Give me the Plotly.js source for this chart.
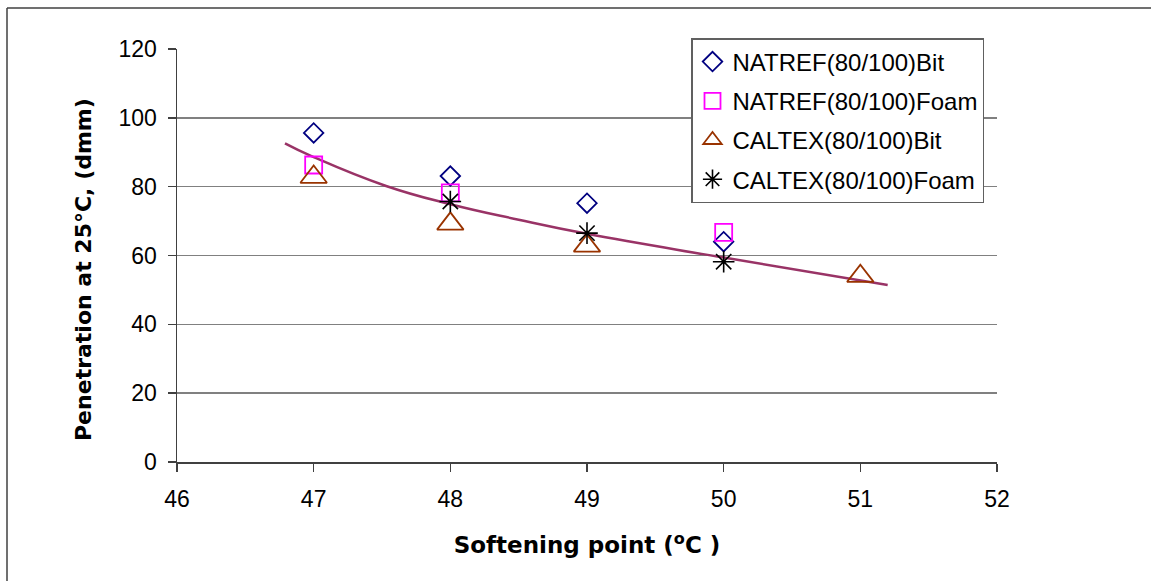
<!DOCTYPE html>
<html>
<head>
<meta charset="utf-8">
<script src="https://cdn.plot.ly/plotly-3.0.1.min.js"></script>
<style>html,body{margin:0;padding:0;background:#fff;}#chart{width:1151px;height:581px;}</style>
</head>
<body>
<div id="chart"></div>
<script>
// Softening point (°C)
var natrefBitX = [47, 48, 49, 50];
var natrefBitY = [95.6, 83.1, 75.2, 64.0];
var natrefFoamX = [47, 48, 50];
var natrefFoamY = [86.3, 78.2, 66.7];
var caltexBitX = [47, 48, 49, 51];
var caltexBitY = [82.8, 69.2, 62.8, 54.0];
var caltexFoamX = [48, 49, 50];
var caltexFoamY = [75.7, 66.5, 58.2];
// trend line
var trendX = [46.79, 47.0, 47.53, 48.0, 48.5, 49.0, 50.0, 51.2];
var trendY = [92.6, 88.6, 80.2, 74.9, 70.4, 66.3, 59.4, 51.4];

var seriesNames = ['NATREF(80/100)Bit', 'NATREF(80/100)Foam', 'CALTEX(80/100)Bit', 'CALTEX(80/100)Foam'];
var xTitle = 'Softening point (<sup>o</sup>C )';
var yTitle = 'Penetration at 25°C, (dmm)';

var traces = [
  {x: trendX, y: trendY, mode: 'lines', line: {color: '#993366', width: 2.5, shape: 'spline', smoothing: 1.3}, showlegend: false, hoverinfo: 'skip'},
  {x: natrefBitX, y: natrefBitY, name: seriesNames[0], mode: 'markers', legendgroup: 'a',
   marker: {symbol: 'diamond-open', size: 15, color: '#000080', line: {width: 1.8, color: '#000080'}}},
  {x: natrefFoamX, y: natrefFoamY, name: seriesNames[1], mode: 'markers', legendgroup: 'b',
   marker: {symbol: 'square-open', size: 17, color: '#FF00FF', line: {width: 1.8, color: '#FF00FF'}}},
  {x: caltexBitX, y: caltexBitY, name: seriesNames[2], mode: 'markers', legendgroup: 'c',
   marker: {symbol: 'triangle-up-open', size: 23, color: '#993300', line: {width: 1.8, color: '#993300'}}},
  {x: caltexFoamX, y: caltexFoamY, name: seriesNames[3], mode: 'markers', legendgroup: 'd',
   marker: {symbol: 'asterisk-open', size: 18, color: '#000000', line: {width: 1.6, color: '#000000'}}}
];

var W = 820, H = 413, L = 177, T = 49;
function px2x(p){ return (p - L) / W; }
function py2y(p){ return (T + H - p) / H; }

var layout = {
  width: 1151, height: 581,
  margin: {l: 177, r: 154, t: 49, b: 119, pad: 0},
  paper_bgcolor: '#ffffff', plot_bgcolor: '#ffffff',
  font: {family: '"Liberation Sans", Arial, sans-serif', size: 23, color: '#000'},
  showlegend: true,
  legend: {
    x: px2x(691), y: py2y(38), xanchor: 'left', yanchor: 'top',
    bgcolor: '#ffffff', bordercolor: '#606060', borderwidth: 1.5,
    font: {family: '"Liberation Sans", Arial, sans-serif', size: 24, color: '#000'},
    traceorder: 'grouped', tracegroupgap: 5, itemwidth: 30
  },
  xaxis: {
    range: [46, 52], dtick: 1, tick0: 46, showgrid: false, zeroline: false,
    showline: true, linecolor: '#404040', linewidth: 1.5,
    ticks: 'outside', ticklen: 8, tickcolor: '#404040', tickwidth: 1.5,
    tickfont: {size: 23}, ticklabelstandoff: 8,
    title: {text: xTitle, standoff: 26,
      font: {family: '"DejaVu Sans", Verdana, sans-serif', size: 23, color: '#000', weight: 'bold'}}
  },
  yaxis: {
    range: [0, 120], dtick: 20, tick0: 0, showgrid: true, gridcolor: '#808080', gridwidth: 1.5,
    zeroline: false, showline: true, linecolor: '#404040', linewidth: 1.5,
    ticks: 'outside', ticklen: 8, tickcolor: '#404040', tickwidth: 1.5,
    tickfont: {size: 23}, ticklabelstandoff: 6
  },
  annotations: [
    {text: yTitle, xref: 'paper', yref: 'paper', x: px2x(83), y: py2y(270), xanchor: 'center', yanchor: 'middle',
     textangle: -90, showarrow: false,
     font: {family: '"DejaVu Sans", Verdana, sans-serif', size: 22, color: '#000', weight: 'bold'}}
  ],
  shapes: [
    {type: 'line', xref: 'paper', yref: 'paper', x0: px2x(7), x1: px2x(1151), y0: py2y(8), y1: py2y(8), line: {color: '#404040', width: 1.5}},
    {type: 'line', xref: 'paper', yref: 'paper', x0: px2x(7), x1: px2x(7), y0: py2y(8), y1: py2y(581), line: {color: '#404040', width: 1.5}}
  ]
};

Plotly.newPlot('chart', traces, layout, {displayModeBar: false, staticPlot: true});
</script>
</body>
</html>
